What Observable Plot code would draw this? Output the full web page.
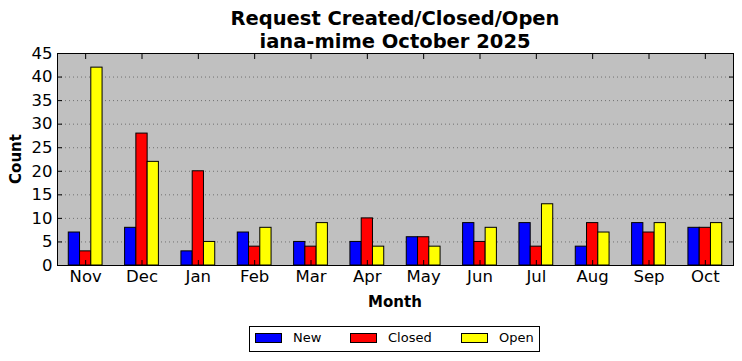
<!DOCTYPE html>
<html><head><meta charset="utf-8">
<script src="https://cdn.jsdelivr.net/npm/d3@7"></script>
<script src="https://cdn.jsdelivr.net/npm/@observablehq/plot@0.6"></script>
<style>
body{margin:0;background:#fff;font-family:"DejaVu Sans",sans-serif;}
#wrap{position:relative;width:742px;height:361px;}
#wrap svg{position:absolute;left:0;top:0;}
.title{position:absolute;left:145px;width:500px;text-align:center;font-weight:bold;font-size:19.5px;line-height:23px;top:7px;}
.xlab{position:absolute;left:295px;width:200px;text-align:center;font-weight:bold;font-size:15px;top:293px;}
.ylab{position:absolute;left:16px;top:159px;transform:translate(-50%,-50%) rotate(-90deg);font-weight:bold;font-size:15px;white-space:nowrap;}
.legend{position:absolute;left:249px;top:326px;width:289px;height:24px;border:1px solid #000;font-size:13px;}
.sw{position:absolute;top:6px;width:25px;height:8px;border:1px solid #000;}
.lt{position:absolute;top:3px;}
</style></head>
<body>
<div id="wrap">
  <div class="title">Request Created/Closed/Open<br>iana-mime October 2025</div>
  <div class="xlab">Month</div>
  <div class="ylab">Count</div>
  <div class="legend" id="legend"></div>
</div>
<script>
const months = ["Nov","Dec","Jan","Feb","Mar","Apr","May","Jun","Jul","Aug","Sep","Oct"];
const seriesNames = ["New","Closed","Open"];
const seriesColors = ["#0000ff","#ff0000","#ffff00"];
const newCounts    = [7, 8, 3, 7, 5, 5, 6, 9, 9, 4, 9, 8];
const closedCounts = [3, 28, 20, 4, 4, 10, 6, 5, 4, 9, 7, 8];
const openCounts   = [42, 22, 5, 8, 9, 4, 4, 8, 13, 7, 9, 9];
const yTicks = [0,5,10,15,20,25,30,35,40,45];

const seriesValues = [newCounts, closedCounts, openCounts];
const barW = 0.2;
const rows = [];
seriesValues.forEach((vals, k) => vals.forEach((v, i) => {
  const x1 = i - 1.5*barW + k*barW;
  rows.push({month: months[i], series: seriesNames[k], x1, x2: x1 + barW, value: v});
}));

const chart = Plot.plot({
  width: 742, height: 361,
  marginLeft: 57, marginRight: 9, marginTop: 53, marginBottom: 96,
  style: {fontFamily: "DejaVu Sans, sans-serif", fontSize: "16.5px", background: "transparent", color: "#000"},
  x: {domain: [-0.5, 11.5], label: null},
  y: {domain: [0, 45], label: null},
  color: {domain: seriesNames, range: seriesColors},
  marks: [
    Plot.frame({fill: "#c0c0c0", stroke: null}),
    Plot.gridY(yTicks.filter(d => d > 0 && d < 45), {stroke: "#707070", strokeOpacity: 1, strokeDasharray: "1,3"}),
    Plot.rectY(rows, {x1: "x1", x2: "x2", y: "value", fill: "series", stroke: "#000", strokeWidth: 1}),
    Plot.axisY(yTicks, {anchor: "left", tickSize: 0, tickPadding: 5, fontSize: 16.5}),
    Plot.axisY(yTicks, {anchor: "left", tickSize: -5, text: null}),
    Plot.axisY(yTicks, {anchor: "right", tickSize: -5, text: null}),
    Plot.axisX(d3.range(months.length), {anchor: "bottom", tickSize: 0, tickPadding: 5, fontSize: 16.5, tickFormat: i => months[i]}),
    Plot.axisX(d3.range(months.length), {anchor: "bottom", tickSize: -5, text: null}),
    Plot.axisX(d3.range(months.length), {anchor: "top", tickSize: -5, text: null}),
    Plot.frame({stroke: "#000", strokeWidth: 1})
  ]
});
document.getElementById("wrap").prepend(chart);

const lg = document.getElementById("legend");
const swX = [5, 100, 211], txX = [43, 138, 249];
seriesNames.forEach((n, k) => {
  const s = document.createElement("div"); s.className = "sw";
  s.style.left = swX[k] + "px"; s.style.background = seriesColors[k]; lg.appendChild(s);
  const t = document.createElement("div"); t.className = "lt";
  t.style.left = txX[k] + "px"; t.textContent = n; lg.appendChild(t);
});
</script>
</body></html>
